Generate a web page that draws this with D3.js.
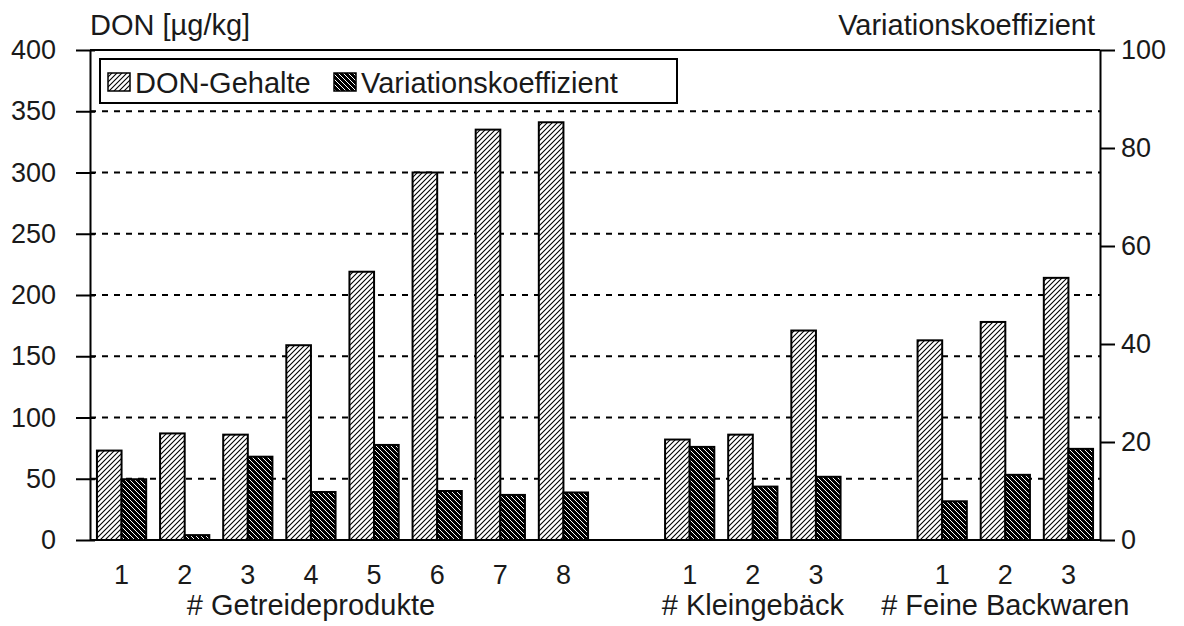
<!DOCTYPE html>
<html>
<head>
<meta charset="utf-8">
<script src="https://cdn.jsdelivr.net/npm/d3@7/dist/d3.min.js"></script>
<style>
  html, body { margin: 0; padding: 0; background: #fff; }
  svg text { font-family: "Liberation Sans", Arial, sans-serif; fill: #1a1a1a; }
</style>
</head>
<body>
<svg id="chart" width="1184" height="626"></svg>
<script>
// Product groups and the sample numbers within each group
const groupNames = ["# Getreideprodukte", "# Kleingebäck", "# Feine Backwaren"];
const groupItems = [
  ["1", "2", "3", "4", "5", "6", "7", "8"],
  ["1", "2", "3"],
  ["1", "2", "3"]
];
// Item (by position within its group) under which the group name is centred
const groupLabelAt = [3, 1, 1];

// DON content [µg/kg], left axis
const donValues = [
  [73, 87, 86, 159, 219, 300, 335, 341],
  [82, 86, 171],
  [163, 178, 214]
];
// Coefficient of variation [%], right axis
const cvValues = [
  [12.4, 1, 17, 9.8, 19.4, 10, 9.2, 9.7],
  [19, 10.9, 12.9],
  [7.9, 13.3, 18.6]
];

const seriesNames = ["DON-Gehalte", "Variationskoeffizient"];
const leftTicks = [0, 50, 100, 150, 200, 250, 300, 350, 400];
const rightTicks = [0, 20, 40, 60, 80, 100];
const leftTitle = "DON [µg/kg]";
const rightTitle = "Variationskoeffizient";

const numFont = "27px";
const wordFont = "29px";

// Flatten into slots, leaving one empty slot between groups
const slots = [];
groupItems.forEach((list, g) => {
  if (g > 0) slots.push({ key: "gap" + g, gap: true });
  list.forEach((lab, i) => {
    slots.push({ key: g + "-" + i, label: lab, group: g, index: i,
                 don: donValues[g][i], cv: cvValues[g][i] });
  });
});
const items = slots.filter(s => !s.gap);

const svg = d3.select("#chart");
const plotLeft = 90, plotRight = 1100, plotTop = 50, plotBottom = 540;

const x = d3.scaleBand().domain(slots.map(s => s.key))
  .range([plotLeft, plotRight]).paddingInner(0.22).paddingOuter(0.11);
const xSub = d3.scaleBand().domain(["don", "cv"]).range([0, x.bandwidth()]);
const yL = d3.scaleLinear().domain([0, 400]).range([plotBottom, plotTop]);
const yR = d3.scaleLinear().domain([0, 100]).range([plotBottom, plotTop]);

// Hatch patterns
const defs = svg.append("defs");
const pDon = defs.append("pattern").attr("id", "hatchDon")
  .attr("patternUnits", "userSpaceOnUse").attr("width", 5).attr("height", 5);
pDon.append("rect").attr("width", 5).attr("height", 5).attr("fill", "#fff");
pDon.append("path").attr("d", "M-1,1 l2,-2 M0,5 l5,-5 M4,6 l2,-2")
  .attr("stroke", "#000").attr("stroke-width", 1.1);
const pCv = defs.append("pattern").attr("id", "hatchCv")
  .attr("patternUnits", "userSpaceOnUse").attr("width", 5).attr("height", 5);
pCv.append("rect").attr("width", 5).attr("height", 5).attr("fill", "#000");
pCv.append("path").attr("d", "M-1,4 l2,2 M0,0 l5,5 M4,-1 l2,2")
  .attr("stroke", "#fff").attr("stroke-width", 1.0);

// Dashed gridlines
svg.append("g").selectAll("line")
  .data(leftTicks.filter(t => t > 0 && t < 400))
  .join("line")
  .attr("x1", plotLeft).attr("x2", plotRight)
  .attr("y1", d => yL(d)).attr("y2", d => yL(d))
  .attr("stroke", "#000").attr("stroke-width", 2)
  .attr("stroke-dasharray", "6,6");

// Bars
const barG = svg.append("g");
barG.selectAll("rect.don").data(items).join("rect").attr("class", "don")
  .attr("x", d => x(d.key) + xSub("don"))
  .attr("width", xSub.bandwidth())
  .attr("y", d => yL(d.don))
  .attr("height", d => yL(0) - yL(d.don))
  .attr("fill", "url(#hatchDon)").attr("stroke", "#000").attr("stroke-width", 2);
barG.selectAll("rect.cv").data(items).join("rect").attr("class", "cv")
  .attr("x", d => x(d.key) + xSub("cv"))
  .attr("width", xSub.bandwidth())
  .attr("y", d => yR(d.cv))
  .attr("height", d => yR(0) - yR(d.cv))
  .attr("fill", "url(#hatchCv)").attr("stroke", "#000").attr("stroke-width", 2);

// Top frame and baseline
svg.append("line").attr("x1", plotLeft).attr("x2", plotRight).attr("y1", plotTop).attr("y2", plotTop)
  .attr("stroke", "#000").attr("stroke-width", 2);
svg.append("line").attr("x1", plotLeft).attr("x2", plotRight).attr("y1", plotBottom).attr("y2", plotBottom)
  .attr("stroke", "#000").attr("stroke-width", 2);

// Left axis
const axL = svg.append("g").attr("transform", `translate(${plotLeft},0)`)
  .call(d3.axisLeft(yL).tickValues(leftTicks).tickSize(14).tickSizeOuter(0).tickPadding(20));
axL.select(".domain").attr("stroke", "#000").attr("stroke-width", 2);
axL.selectAll(".tick line").attr("x1", 5).attr("stroke", "#000").attr("stroke-width", 2);
axL.selectAll(".tick text").style("font-size", numFont).attr("fill", "#1a1a1a");

// Right axis
const axR = svg.append("g").attr("transform", `translate(${plotRight},0)`)
  .call(d3.axisRight(yR).tickValues(rightTicks).tickSize(15).tickSizeOuter(0).tickPadding(6));
axR.select(".domain").attr("stroke", "#000").attr("stroke-width", 2);
axR.selectAll(".tick line").attr("stroke", "#000").attr("stroke-width", 2);
axR.selectAll(".tick text").style("font-size", numFont).attr("fill", "#1a1a1a");

// Axis titles
svg.append("text").attr("x", plotLeft).attr("y", 35).style("font-size", wordFont).text(leftTitle);
svg.append("text").attr("x", 1095).attr("y", 35).attr("text-anchor", "end")
  .style("font-size", wordFont).text(rightTitle);

// Item numbers and group names below the baseline
svg.append("g").selectAll("text").data(items).join("text")
  .attr("x", d => x(d.key) + x.bandwidth() / 2).attr("y", 584)
  .attr("text-anchor", "middle").style("font-size", numFont).text(d => d.label);
svg.append("g").selectAll("text").data(groupNames).join("text")
  .attr("x", (d, g) => x(g + "-" + groupLabelAt[g]) + x.bandwidth() / 2).attr("y", 615)
  .attr("text-anchor", "middle").style("font-size", wordFont).text(d => d);

// Legend
const lg = svg.append("g");
lg.append("rect").attr("x", 100).attr("y", 59).attr("width", 577).attr("height", 44)
  .attr("fill", "#fff").attr("stroke", "#000").attr("stroke-width", 2);
const legendX = [108, 334];
const legendFill = ["url(#hatchDon)", "url(#hatchCv)"];
seriesNames.forEach((name, i) => {
  lg.append("rect").attr("x", legendX[i]).attr("y", 73).attr("width", 22).attr("height", 18)
    .attr("fill", legendFill[i]).attr("stroke", "#000").attr("stroke-width", 1.5);
  lg.append("text").attr("x", legendX[i] + 27).attr("y", 93).style("font-size", wordFont).text(name);
});
</script>
</body>
</html>
